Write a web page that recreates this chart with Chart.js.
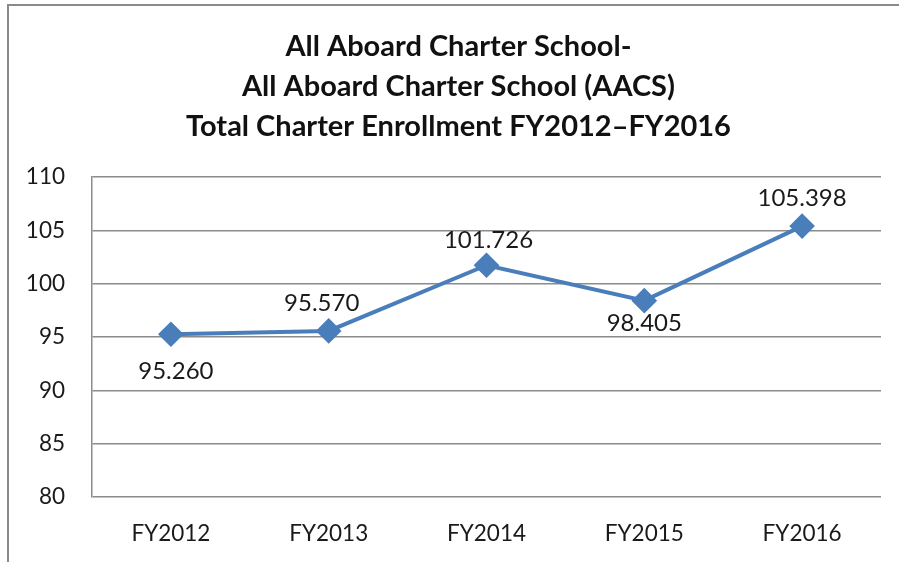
<!DOCTYPE html>
<html><head><meta charset="utf-8">
<script src="https://cdn.jsdelivr.net/npm/chart.js@4/dist/chart.umd.min.js"></script>
<style>html,body{margin:0;padding:0;background:#fff;}#wrap{width:899px;height:562px;position:relative;}</style>
</head><body><div id="wrap"><canvas id="c" width="899" height="562"></canvas></div>
<script>
const titleLines = ['All Aboard Charter School-', 'All Aboard Charter School (AACS)', 'Total Charter Enrollment FY2012\u2013FY2016'];
const categories = ['FY2012', 'FY2013', 'FY2014', 'FY2015', 'FY2016'];
const enrollment = [95.260, 95.570, 101.726, 98.405, 105.398];
const yTicks = [80, 85, 90, 95, 100, 105, 110];

const labelShift = [[5, 37], [-7, -28], [2, -25], [0, 23], [0, -28]];

const frame = {
  id: 'frame',
  beforeDraw(chart) {
    const c = chart.ctx;
    c.save();
    c.fillStyle = '#fff';
    c.fillRect(0, 0, chart.width, chart.height);
    c.strokeStyle = '#8a8a8a';
    c.lineWidth = 2;
    c.beginPath();
    c.moveTo(8, 562); c.lineTo(8, 5); c.lineTo(899, 5);
    c.stroke();
    c.restore();
  }
};
const valueLabels = {
  id: 'valueLabels',
  afterDatasetsDraw(chart) {
    const c = chart.ctx;
    const meta = chart.getDatasetMeta(0);
    c.save();
    c.font = '24px Lato';
    c.fillStyle = '#1a1a1a';
    c.textAlign = 'center';
    c.textBaseline = 'middle';
    meta.data.forEach((pt, i) => {
      const s = labelShift[i];
      c.fillText(enrollment[i].toFixed(3), pt.x + s[0], pt.y + s[1]);
    });
    c.restore();
  }
};

new Chart(document.getElementById('c'), {
  type: 'line',
  data: {
    labels: categories,
    datasets: [{
      data: enrollment,
      borderColor: '#4a7ebb',
      backgroundColor: '#4a7ebb',
      borderWidth: 4,
      pointStyle: 'rectRot',
      pointRadius: 10,
      pointHoverRadius: 10,
      tension: 0
    }]
  },
  options: {
    responsive: false,
    animation: false,
    devicePixelRatio: 1,
    layout: { padding: { left: 18, right: 0, top: 0, bottom: 0 } },
    plugins: {
      legend: { display: false },
      tooltip: { enabled: false },
      title: {
        display: true,
        text: titleLines,
        color: '#111',
        font: { family: 'Lato', size: 29, weight: 'bold', lineHeight: '40px' },
        padding: { top: 27, bottom: 30 }
      }
    },
    scales: {
      x: {
        offset: true,
        grid: { display: false, drawTicks: false },
        border: { display: false },
        ticks: { color: '#1a1a1a', font: { family: 'Lato', size: 22.5 }, padding: 23, maxRotation: 0 },
        afterFit(s) { s.height = 65; }
      },
      y: {
        min: 80, max: 110,
        afterBuildTicks(s) { s.ticks = yTicks.map(v => ({ value: v })); },
        grid: { color: '#8c8c8c', lineWidth: 1.5, drawTicks: false },
        border: { display: true, color: '#8c8c8c', width: 1.5 },
        ticks: { color: '#1a1a1a', font: { family: 'Lato', size: 22.5 }, padding: 27 },
        afterFit(s) { s.width = 74; }
      },
      yRight: {
        position: 'right',
        min: 80, max: 110,
        grid: { display: false, drawTicks: false },
        border: { display: false },
        ticks: { display: false },
        afterFit(s) { s.width = 18; }
      }
    }
  },
  plugins: [frame, valueLabels]
});
</script></body></html>
